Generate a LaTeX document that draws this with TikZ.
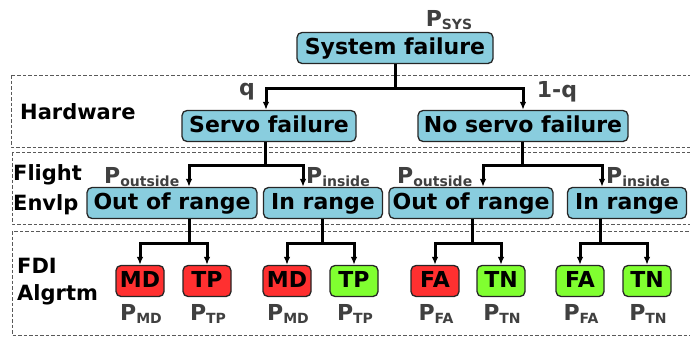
\documentclass[tikz,border=0pt]{standalone}
\usepackage{fontspec}
\setmainfont{DejaVu Sans}
\usetikzlibrary{arrows.meta}
\definecolor{boxblue}{RGB}{137,205,222}
\definecolor{boxred}{RGB}{255,48,48}
\definecolor{boxgreen}{RGB}{128,255,48}
\definecolor{labgray}{RGB}{64,64,64}
\newcommand{\Pl}[1]{P\raisebox{-3pt}{\fontsize{14}{14}\selectfont #1}}
\tikzset{
  nbox/.style={draw=black!85, line width=1.3pt, rounded corners=5pt, inner sep=0pt,
    font=\fontsize{22}{24}\selectfont\bfseries, text height=16pt, text depth=4pt},
  bluebox/.style={nbox, fill=boxblue, minimum height=31pt},
  redbox/.style={nbox, fill=boxred, minimum width=48pt, minimum height=31pt},
  greenbox/.style={nbox, fill=boxgreen, minimum width=48pt, minimum height=31pt},
  plab/.style={text=labgray, font=\fontsize{22}{24}\selectfont\bfseries, inner sep=0pt},
  side/.style={inner sep=0pt, align=left},
  region/.style={draw=gray!70!black, dash pattern=on 3.5pt off 2pt, line width=0.8pt},
  conn/.style={line width=3pt, -{Latex[length=8pt,width=6.5pt]}},
  seg/.style={line width=3pt},
}
\begin{document}
\begin{tikzpicture}[x=1pt,y=-1pt]
\useasboundingbox (0,0) rectangle (690,340);
\begin{scope}
\clip (0,0) rectangle (690,340);
\draw[region] (11,75) rectangle (700,147);
\draw[region] (12,152) rectangle (700,224);
\draw[region] (12,231) rectangle (700,335);
\end{scope}

% side labels
\node[side, font=\fontsize{21}{26}\selectfont\bfseries, anchor=west] (hw) at (20,112) {Hardware};
\node[side, font=\fontsize{21}{30}\selectfont\bfseries, anchor=west] (fe) at (13,190) {Flight\\Envlp};
\node[side, font=\fontsize{21}{27}\selectfont\bfseries, anchor=west] (fdi) at (17,282) {FDI\\Algrtm};

% nodes
\node[bluebox, minimum width=196pt] (sys) at (395,48) {System failure};
\node[plab] (psys) at (449,20) {\Pl{SYS}};

\node[bluebox, minimum width=174pt] (servo) at (269,126) {Servo failure};
\node[bluebox, minimum width=210pt] (noservo) at (523,126) {No servo failure};

\node[bluebox, minimum width=170pt] (out1) at (172,203) {Out of range};
\node[bluebox, minimum width=119pt] (in1) at (323,203) {In range};
\node[bluebox, minimum width=164pt] (out2) at (471,203) {Out of range};
\node[bluebox, minimum width=119pt] (in2) at (627,203) {In range};

\node[redbox] (md1) at (140,281) {MD};
\node[redbox] (tp1) at (207,281) {TP};
\node[redbox] (md2) at (287,281) {MD};
\node[greenbox] (tp2) at (354,281) {TP};
\node[redbox] (fa1) at (435,281) {FA};
\node[greenbox] (tn1) at (501,281) {TN};
\node[greenbox] (fa2) at (580,281) {FA};
\node[greenbox] (tn2) at (647,281) {TN};

% probability labels
\node[plab] (lq) at (247,92) {q};
\node[plab] (l1q) at (557,92) {1-q};
\node[plab, anchor=base west] (po1) at (104,183) {\Pl{outside}};
\node[plab, anchor=base west] (pi1) at (306,183) {\Pl{inside}};
\node[plab, anchor=base west] (po2) at (397,183) {\Pl{outside}};
\node[plab, anchor=base west] (pi2) at (606,183) {\Pl{inside}};

\node[plab] (pmd1) at (141,314) {\Pl{MD}};
\node[plab] (ptp1) at (208,314) {\Pl{TP}};
\node[plab] (pmd2) at (288,314) {\Pl{MD}};
\node[plab] (ptp2) at (355,314) {\Pl{TP}};
\node[plab] (pfa1) at (436,314) {\Pl{FA}};
\node[plab] (ptn1) at (502,314) {\Pl{TN}};
\node[plab] (pfa2) at (581,314) {\Pl{FA}};
\node[plab] (ptn2) at (648,314) {\Pl{TN}};

% junction coordinates
\coordinate (j0) at (395,88);
\coordinate (a01) at (266,0);
\coordinate (a02) at (523,0);
\coordinate (j1) at (265,165);
\coordinate (a11) at (189,0);
\coordinate (a12) at (303,0);
\coordinate (j2) at (522,165);
\coordinate (a21) at (483,0);
\coordinate (a22) at (602,0);
\coordinate (k1) at (189,243);
\coordinate (k2) at (322,243);
\coordinate (k3) at (472,243);
\coordinate (k4) at (600,243);

% connectors
\draw[seg] (sys.south) -- (j0);
\draw[conn] (j0) -| (a01 |- servo.north);
\draw[conn] (j0) -| (a02 |- noservo.north);

\draw[seg] (j1 |- servo.south) -- (j1);
\draw[conn] (j1) -| (a11 |- out1.north);
\draw[conn] (j1) -| (a12 |- in1.north);
\draw[seg] (j2 |- noservo.south) -- (j2);
\draw[conn] (j2) -| (a21 |- out2.north);
\draw[conn] (j2) -| (a22 |- in2.north);

\draw[seg] (k1 |- out1.south) -- (k1);
\draw[conn] (k1) -| (md1.north);
\draw[conn] (k1) -| (tp1.north);
\draw[seg] (k2 |- in1.south) -- (k2);
\draw[conn] (k2) -| (md2.north);
\draw[conn] (k2) -| (tp2.north);
\draw[seg] (k3 |- out2.south) -- (k3);
\draw[conn] (k3) -| (fa1.north);
\draw[conn] (k3) -| (tn1.north);
\draw[seg] (k4 |- in2.south) -- (k4);
\draw[conn] (k4) -| (fa2.north);
\draw[conn] (k4) -| (tn2.north);
\end{tikzpicture}
\end{document}
